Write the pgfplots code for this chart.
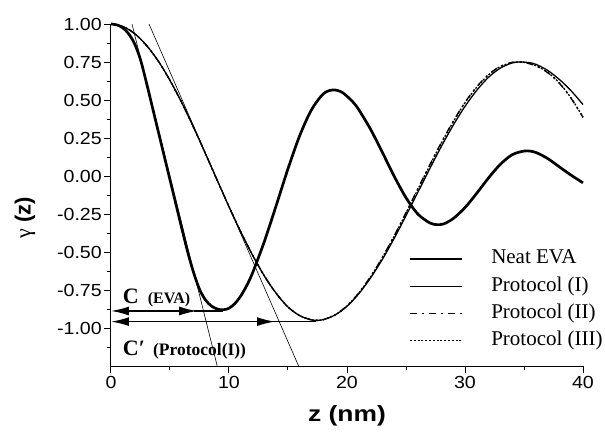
\documentclass[border=0pt]{standalone}
\usepackage{fontspec}
\setmainfont{Liberation Serif}
\setsansfont{Liberation Sans}
\newfontfamily\tickfont[FakeStretch=1.12]{Liberation Sans}
\newfontfamily\labfont[FakeStretch=1.2]{Liberation Sans}
\usepackage{pgfplots}
\pgfplotsset{compat=1.18}
\usetikzlibrary{arrows.meta}

\begin{document}
\begin{tikzpicture}
\begin{axis}[name=ax, scale only axis, width=472pt, height=342pt,
  xmin=0, xmax=40, ymin=-1.25, ymax=1,
  axis lines*=left, clip=false,
  xtick={0,10,20,30,40}, minor xtick={5,15,25,35},
  ytick={-1,-0.75,-0.5,-0.25,0,0.25,0.5,0.75,1},
  minor ytick={-1.125,-0.875,-0.625,-0.375,-0.125,0.125,0.375,0.625,0.875},
  tick align=outside, major tick length=7pt, minor tick length=4pt,
  every tick/.style={black, line width=1pt},
  axis line style={line width=1pt},
  tick label style={font=\tickfont\fontsize{17.5}{19}\selectfont},
  /pgf/number format/assume math mode=true,
  yticklabel style={/pgf/number format/fixed, /pgf/number format/fixed zerofill, /pgf/number format/precision=2, inner xsep=2pt},
  xticklabel style={/pgf/number format/fixed},
  xlabel={z (nm)},
  xlabel style={font=\labfont\bfseries\fontsize{22}{24}\selectfont, at={(rel axis cs:0.5,0)}, anchor=north, yshift=-36pt},
  ylabel={{\rmfamily\mdseries γ} (z)},
  ylabel style={font=\sffamily\bfseries\fontsize{22}{24}\selectfont, at={(rel axis cs:0,0.433)}, anchor=center, yshift=86pt},
  legend style={draw=none, fill=none, at={(axis cs:25.2,-0.455)}, anchor=north west,
    font=\rmfamily\fontsize{21}{22}\selectfont, row sep=0pt, column sep=25pt, inner sep=0pt,
    nodes={text height=14pt, text depth=4pt, inner ysep=4.6pt, inner xsep=3pt}},
  legend cell align=left,
  legend image code/.code={\draw[#1] (0pt,0pt) -- (52pt,0pt);},
]
% Neat EVA
\addplot[black, line width=2.7pt, smooth] coordinates {
(0,1.000) (0.5,0.994) (1,0.975) (1.5,0.935) (2,0.870) (2.5,0.765) (3,0.615) (3.5,0.455)
(4,0.295) (4.5,0.135) (5,-0.025) (5.5,-0.185) (6,-0.345) (6.5,-0.50) (7,-0.635) (7.5,-0.745)
(8,-0.815) (8.5,-0.855) (9,-0.875) (9.5,-0.880) (10,-0.870) (10.5,-0.839) (11,-0.789) (11.5,-0.721)
(12,-0.637) (13,-0.430) (14,-0.194) (15,0.048) (16,0.267) (17,0.437) (18,0.541) (18.8,0.566)
(19.6,0.550) (20.5,0.487) (21,0.436) (22,0.307) (23,0.155) (24,-0.002) (25,-0.143) (26,-0.250) (27,-0.308)
(27.6,-0.320) (28.2,-0.315) (29,-0.280) (30,-0.208) (31,-0.113) (32,-0.012) (33,0.077) (34,0.140)
(35.1,0.165) (36,0.155) (37,0.115) (38,0.060) (39,0.005) (40,-0.045)
};
\addlegendentry{Neat EVA}
% Protocol (I)
\addplot[black, line width=1.3pt, smooth] coordinates {
(0,1.000) (1,0.984) (2,0.937) (3,0.860) (4,0.757) (5,0.629) (6,0.482) (7,0.320) (8,0.148)
(9,-0.028) (10,-0.202) (11,-0.368) (12,-0.521) (13,-0.658) (14,-0.772) (15,-0.862) (16,-0.919)
(17,-0.947) (17.4,-0.950) (18,-0.945) (19,-0.914) (20,-0.857) (21,-0.775) (22,-0.670) (23,-0.548)
(24,-0.410) (25,-0.261) (26,-0.108) (27,0.046) (28,0.195) (29,0.334) (30,0.458) (31,0.564)
(32,0.650) (33,0.710) (34,0.744) (34.7,0.750) (35.4,0.746) (36,0.735) (37,0.695) (38,0.635) (39,0.560) (40,0.470)
};
\addlegendentry{Protocol (I)}
% Protocol (II)
\addplot[black, line width=1.3pt, smooth, dash pattern=on 7pt off 5pt on 2pt off 5pt] coordinates {
(0,1.000) (1,0.984) (2,0.937) (3,0.860) (4,0.757) (5,0.629) (6,0.482) (7,0.320) (8,0.148)
(9,-0.028) (10,-0.202) (11,-0.368) (12,-0.521) (13,-0.658) (14,-0.772) (15,-0.862) (16,-0.919)
(17,-0.947) (17.4,-0.950) (18,-0.945) (19,-0.913) (20,-0.854) (21,-0.769) (22,-0.661) (23,-0.535)
(24,-0.393) (25,-0.241) (26,-0.084) (27,0.071) (28,0.221) (29,0.360) (30,0.485) (31,0.588)
(32,0.668) (33,0.722) (34,0.748) (34.4,0.750) (35,0.747) (36,0.725) (37,0.680) (38,0.610) (39,0.510) (40,0.385)
};
\addlegendentry{Protocol (II)}
% Protocol (III)
\addplot[black, line width=1.3pt, smooth, dash pattern=on 2pt off 1.8pt] coordinates {
(0,1.000) (1,0.984) (2,0.937) (3,0.860) (4,0.757) (5,0.629) (6,0.482) (7,0.320) (8,0.148)
(9,-0.028) (10,-0.202) (11,-0.368) (12,-0.521) (13,-0.658) (14,-0.772) (15,-0.862) (16,-0.919)
(17,-0.947) (17.4,-0.950) (18,-0.945) (19,-0.913) (20,-0.855) (21,-0.770) (22,-0.663) (23,-0.537)
(24,-0.396) (25,-0.244) (26,-0.088) (27,0.067) (28,0.217) (29,0.356) (30,0.482) (31,0.585)
(32,0.666) (33,0.721) (34,0.747) (34.5,0.750) (35,0.748) (36,0.726) (37,0.682) (38,0.612) (39,0.512) (40,0.388)
};
\addlegendentry{Protocol (III)}
% tangent lines
\addplot[black, line width=0.6pt, forget plot] coordinates {(1.78,1.0) (9.0,-1.25)};
\addplot[black, line width=0.6pt, forget plot] coordinates {(3.22,1.0) (15.9,-1.25)};
% arrows
\draw[line width=1.6pt, {Latex[length=18pt,width=9pt]}-{Latex[length=18pt,width=9pt]}] (axis cs:0,-0.888) -- (axis cs:7.3,-0.888);
\draw[line width=1.6pt] (axis cs:7,-0.888) -- (axis cs:9.5,-0.888);
\draw[line width=1.6pt, {Latex[length=18pt,width=9pt]}-{Latex[length=18pt,width=9pt]}] (axis cs:0,-0.958) -- (axis cs:13.9,-0.958);
\draw[line width=1.6pt] (axis cs:13.5,-0.958) -- (axis cs:17.4,-0.958);
\node[anchor=base west, inner sep=0pt] at (axis cs:1.0,-0.836) {\bfseries\fontsize{22}{24}\selectfont C\hspace{9pt}\fontsize{16}{18}\selectfont (EVA)};
\node[anchor=base west, inner sep=0pt] at (axis cs:1.0,-1.178) {\bfseries\fontsize{22}{24}\selectfont C′\hspace{8pt}\fontsize{17.5}{19}\selectfont (Protocol(I))};
\end{axis}
\pgfresetboundingbox
\path ([shift={(-111pt,-74pt)}]ax.south west) rectangle ([shift={(22pt,24pt)}]ax.north east);
\end{tikzpicture}
\end{document}
